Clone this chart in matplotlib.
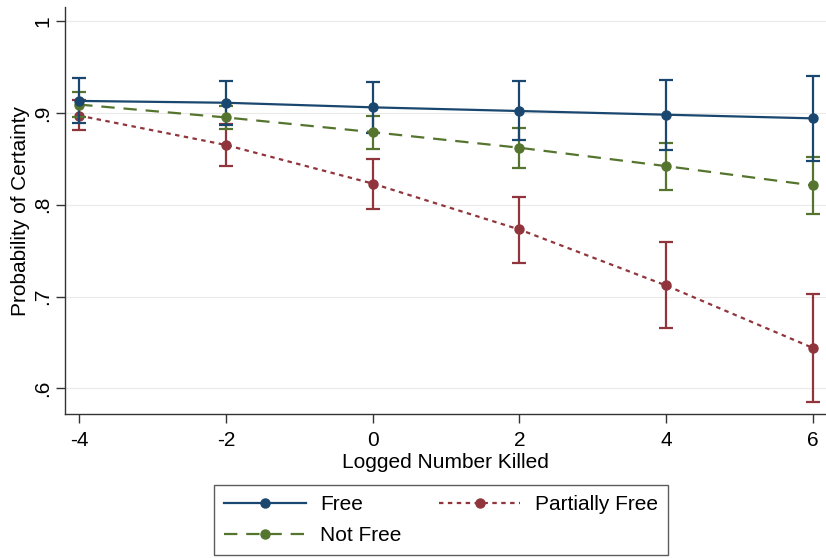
import matplotlib
matplotlib.use("Agg")
import matplotlib.pyplot as plt

plt.rcParams['font.family'] = ['Liberation Sans', 'DejaVu Sans']

# x positions (logged number killed)
x_vals = [-4, -2, 0, 2, 4, 6]

# predicted probabilities with confidence intervals
free_mean = [0.913, 0.911, 0.906, 0.902, 0.898, 0.894]
free_low = [0.889, 0.887, 0.878, 0.870, 0.860, 0.848]
free_high = [0.938, 0.935, 0.934, 0.935, 0.936, 0.940]

partial_mean = [0.897, 0.865, 0.823, 0.773, 0.712, 0.644]
partial_low = [0.881, 0.842, 0.795, 0.736, 0.666, 0.585]
partial_high = [0.914, 0.888, 0.850, 0.808, 0.759, 0.703]

notfree_mean = [0.909, 0.895, 0.879, 0.862, 0.842, 0.821]
notfree_low = [0.895, 0.882, 0.861, 0.840, 0.816, 0.790]
notfree_high = [0.923, 0.908, 0.897, 0.884, 0.867, 0.852]

y_ticks = [0.6, 0.7, 0.8, 0.9, 1.0]
y_tick_labels = ['.6', '.7', '.8', '.9', '1']


def draw_series(ax, mean, low, high, color, ls, label, zorder):
    err = [[m - lo for m, lo in zip(mean, low)],
           [hi - m for m, hi in zip(mean, high)]]
    ax.errorbar(x_vals, mean, yerr=err, fmt='none', ecolor=color,
                elinewidth=1.6, capsize=5, capthick=1.6, zorder=zorder)
    line, = ax.plot(x_vals, mean, color=color, linestyle=ls, linewidth=1.6,
                    marker='o', markersize=6.5, label=label,
                    zorder=zorder + 1)
    return line


fig = plt.figure(figsize=(8.26, 5.58), dpi=100)
ax = fig.add_axes([0.079, 0.258, 0.921, 0.729])

ax.set_xlim(-4.19, 6.18)
ax.set_ylim(0.572, 1.015)

for yt in y_ticks:
    ax.axhline(yt, color='#eaeaea', linewidth=0.8, zorder=0)

h_free = draw_series(ax, free_mean, free_low, free_high, '#1a476f', '-',
                     'Free', 5)
h_part = draw_series(ax, partial_mean, partial_low, partial_high, '#90353b',
                     (0, (2, 2)), 'Partially Free', 3)
h_not = draw_series(ax, notfree_mean, notfree_low, notfree_high, '#55752f',
                    (0, (6, 4)), 'Not Free', 4)

ax.set_xticks(x_vals)
ax.set_xticklabels([str(v) for v in x_vals], fontsize=15)
ax.set_yticks(y_ticks)
ax.set_yticklabels(y_tick_labels, fontsize=15, rotation=90, va='center')
ax.tick_params(length=6.5, width=1, color='#333333', pad=3)
ax.tick_params(axis='x', pad=6)

ax.set_xlabel('Logged Number Killed', fontsize=15, labelpad=2)
ax.set_ylabel('Probability of Certainty', fontsize=15, labelpad=2)

for side in ['top', 'right']:
    ax.spines[side].set_visible(False)
for side in ['left', 'bottom']:
    ax.spines[side].set_color('#333333')
    ax.spines[side].set_linewidth(1.0)

leg = fig.legend(handles=[h_free, h_not, h_part], ncol=2, fontsize=15,
                 loc='upper left', bbox_to_anchor=(0.259, 1 - 485 / 558),
                 frameon=True, fancybox=False, handlelength=3.9,
                 borderaxespad=0, borderpad=0.5, columnspacing=1.8,
                 labelspacing=0.55, handletextpad=0.7)
leg.get_frame().set_edgecolor('#333333')
leg.get_frame().set_linewidth(1.0)

fig.savefig('out.png', dpi=100)
